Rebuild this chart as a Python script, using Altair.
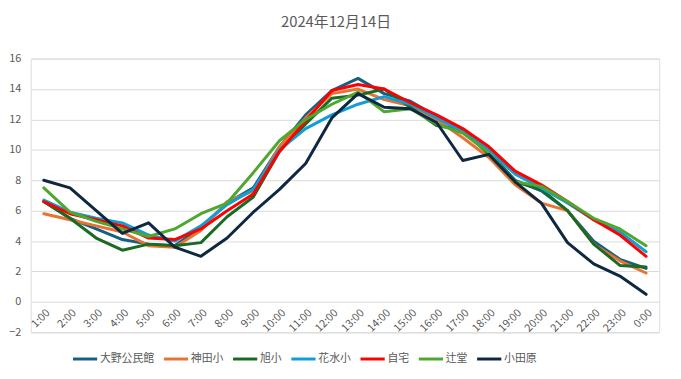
import altair as alt
import pandas as pd

hours = ["1:00", "2:00", "3:00", "4:00", "5:00", "6:00", "7:00", "8:00", "9:00", "10:00",
         "11:00", "12:00", "13:00", "14:00", "15:00", "16:00", "17:00", "18:00", "19:00",
         "20:00", "21:00", "22:00", "23:00", "0:00"]

names = ["大野公民館", "神田小", "旭小", "花水小", "自宅", "辻堂", "小田原"]
colors = ["#156082", "#e97132", "#196b24", "#0f9ed5", "#ff0000", "#4ea72e", "#0e2841"]
widths = [3, 3, 3, 3, 4, 3, 3]

ohno = [6.6, 5.5, 4.8, 4.1, 3.8, 3.7, 4.9, 6.5, 7.5, 10.2, 12.3, 13.9, 14.7, 13.7, 13.2, 12.2, 11.2, 9.9, 8.0, 7.3, 6.0, 4.0, 2.8, 2.2]
kanda = [5.8, 5.4, 5.0, 4.6, 3.7, 3.6, 4.7, 6.6, 7.3, 10.2, 12.1, 13.7, 14.0, 13.3, 12.9, 12.0, 10.8, 9.5, 7.7, 6.5, 6.0, 3.8, 2.7, 1.9]
asahi = [6.6, 5.5, 4.2, 3.4, 3.8, 3.7, 3.9, 5.6, 6.9, 9.9, 11.7, 13.4, 13.6, 14.0, 12.8, 11.6, 11.3, 9.7, 7.9, 7.4, 6.0, 3.8, 2.4, 2.3]
hanamizu = [6.7, 5.9, 5.5, 5.2, 4.4, 4.0, 5.0, 6.4, 7.4, 10.0, 11.4, 12.3, 13.0, 13.5, 13.0, 12.1, 11.2, 10.0, 8.4, 7.5, 6.5, 5.4, 4.6, 3.3]
jitaku = [6.6, 5.8, 5.4, 5.0, 4.2, 4.1, 4.8, 6.0, 7.1, 9.9, 11.9, 13.9, 14.3, 14.0, 13.1, 12.3, 11.4, 10.2, 8.6, 7.7, 6.6, 5.4, 4.4, 3.0]
tsujido = [7.5, 5.9, 5.3, 4.8, 4.3, 4.8, 5.8, 6.5, 8.5, 10.6, 12.0, 13.0, 13.8, 12.5, 12.7, 11.7, 11.1, 9.8, 7.9, 7.6, 6.6, 5.5, 4.8, 3.7]
odawara = [8.0, 7.5, 6.0, 4.5, 5.2, 3.6, 3.0, 4.2, 5.9, 7.4, 9.1, 12.1, 13.7, 12.8, 12.7, 11.8, 9.3, 9.7, 7.9, 6.5, 3.9, 2.5, 1.7, 0.5]

series = [ohno, kanda, asahi, hanamizu, jitaku, tsujido, odawara]

rows = []
for name, vals in zip(names, series):
    for h, v in zip(hours, vals):
        rows.append({"time": h, "temp": v, "site": name})
df = pd.DataFrame(rows)

font = "Noto Sans CJK JP"
grey = "#595959"

chart = alt.Chart(df).mark_line(interpolate="linear", strokeJoin="round", strokeCap="round").encode(
    x=alt.X("time:N", sort=hours,
            scale=alt.Scale(type="point", padding=0.5),
            axis=alt.Axis(title=None, labelAngle=-45, domain=False, ticks=False, grid=False,
                          offset=-31, labelColor=grey, labelFontSize=11, labelFont=font,
                          labelPadding=5)),
    y=alt.Y("temp:Q", scale=alt.Scale(domain=[-2, 16], nice=False, zero=False),
            axis=alt.Axis(title=None, values=list(range(-2, 17, 2)), domain=False, ticks=False,
                          gridColor="#d9d9d9", gridWidth=1, labelPadding=10, labelColor=grey,
                          labelFontSize=11, labelFont=font)),
    color=alt.Color("site:N", sort=names,
                    scale=alt.Scale(domain=names, range=colors),
                    legend=alt.Legend(title=None, orient="none", legendX=41, legendY=290,
                                      direction="horizontal", symbolType="stroke",
                                      symbolSize=600, symbolStrokeWidth=3, columnPadding=3,
                                      labelOffset=1, labelFont=font, labelFontSize=11,
                                      labelColor=grey)),
    strokeWidth=alt.StrokeWidth("site:N", sort=names,
                                scale=alt.Scale(domain=names, range=widths), legend=None),
    order=alt.Order("order:Q"),
).transform_calculate(
    order="indexof(" + str(hours) + ", datum.time)"
).properties(
    width=636, height=277,
    title=alt.TitleParams("2024年12月14日", fontSize=15, color=grey, font=font,
                          fontWeight="normal", anchor="middle", dx=-9, offset=23),
    padding={"left": 23, "top": 49, "right": 14, "bottom": 45},
    autosize="none",
).configure_view(stroke=None).configure(background="white")

chart.save("out.html", embed_options={"renderer": "svg", "actions": False})
